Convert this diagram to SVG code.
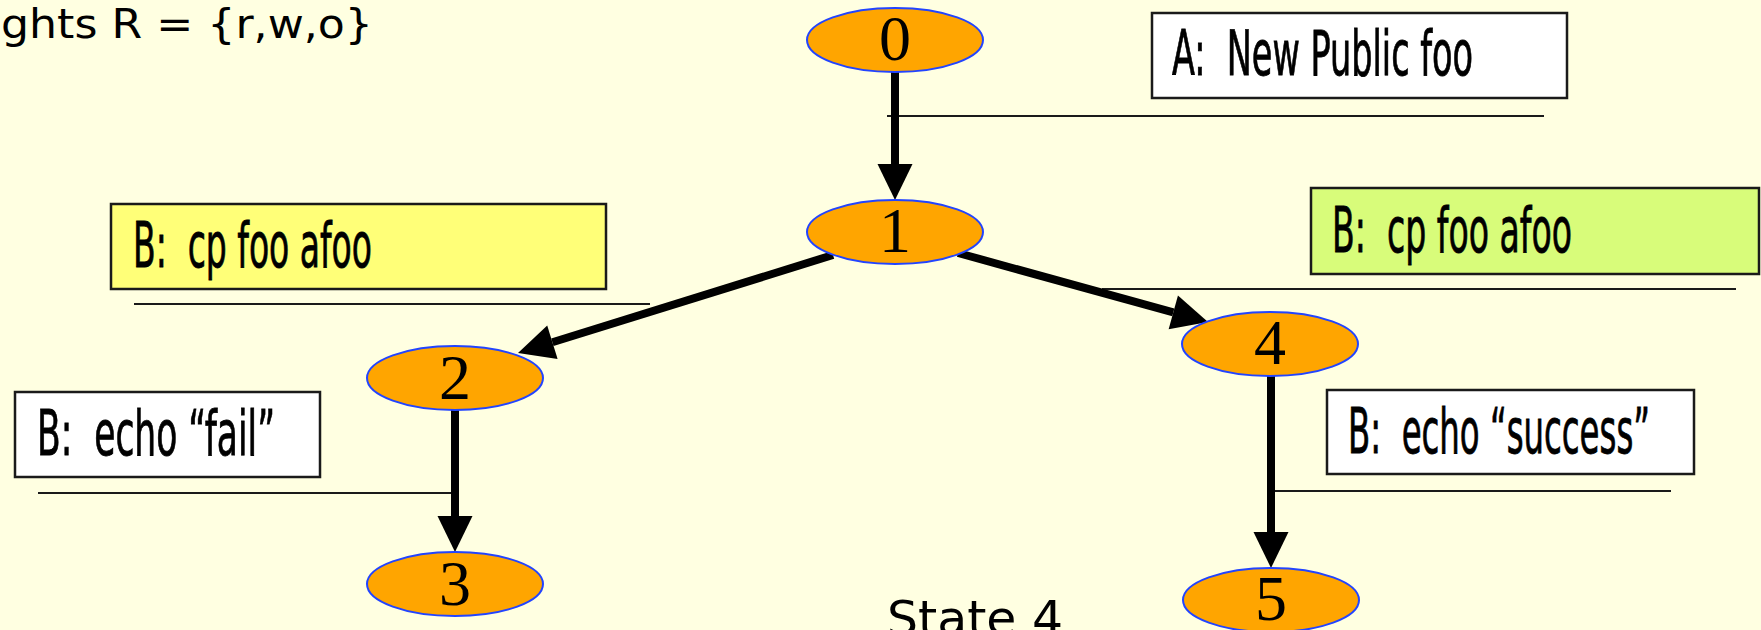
<svg xmlns="http://www.w3.org/2000/svg" width="1761" height="630" viewBox="0 0 1761 630">
  <style>
    .bg { fill: #FFFFE1; }
    .node ellipse { fill: #FFA500; stroke: #2244FF; stroke-width: 2; }
    .node text { font-family: "Liberation Serif", "Times New Roman", serif; font-size: 64px; fill: #000; text-anchor: middle; }
    .box rect { stroke: #1A1A1A; stroke-width: 2.5; }
    .box text { font-family: "Liberation Sans Narrow", "DejaVu Sans Condensed", "Liberation Sans", sans-serif; font-size: 62px; fill: #000; stroke: #000; stroke-width: 0.8; white-space: pre; }
    .rule { stroke: #1A1A1A; stroke-width: 2; fill: none; }
    .edge { stroke: #000; stroke-width: 8; fill: none; marker-end: url(#ah); }
    .caption { font-family: "DejaVu Sans", "Liberation Sans", sans-serif; fill: #000; }
  </style>
  <defs>
    <marker id="ah" markerUnits="userSpaceOnUse" markerWidth="37" markerHeight="36" refX="0" refY="18" orient="auto" overflow="visible">
      <path d="M0,0.5 L36,18 L0,35.5 z" fill="#000"/>
    </marker>
  </defs>
  <rect class="bg" x="0" y="0" width="1761" height="630"/>

  <text class="caption" x="1" y="38" font-size="40" textLength="372" lengthAdjust="spacingAndGlyphs" xml:space="preserve">ghts R = {r,w,o}</text>
  <text class="caption" x="887" y="635" font-size="48" textLength="176" lengthAdjust="spacingAndGlyphs">State 4</text>

  <g id="rules">
    <line class="rule" x1="887" y1="116" x2="1544" y2="116"/>
    <line class="rule" x1="134" y1="304" x2="650" y2="304"/>
    <line class="rule" x1="1102" y1="289" x2="1736" y2="289"/>
    <line class="rule" x1="38" y1="493" x2="455" y2="493"/>
    <line class="rule" x1="1272" y1="491" x2="1671" y2="491"/>
  </g>

  <g id="box-a" class="box">
    <rect x="1152" y="13" width="415" height="85" fill="#FFFFFF"/>
    <text x="1172" y="75" textLength="301" lengthAdjust="spacingAndGlyphs" xml:space="preserve">A:  New Public foo</text>
  </g>
  <g id="box-b-left" class="box">
    <rect x="111" y="204" width="495" height="85" fill="#FFFF78"/>
    <text x="133" y="267" textLength="239" lengthAdjust="spacingAndGlyphs" xml:space="preserve">B:  cp foo afoo</text>
  </g>
  <g id="box-b-right" class="box">
    <rect x="1311" y="188" width="448" height="86" fill="#D8FC7A"/>
    <text x="1332" y="252" textLength="240" lengthAdjust="spacingAndGlyphs" xml:space="preserve">B:  cp foo afoo</text>
  </g>
  <g id="box-fail" class="box">
    <rect x="15" y="392" width="305" height="85" fill="#FFFFFF"/>
    <text x="37" y="455" textLength="238" lengthAdjust="spacingAndGlyphs" xml:space="preserve">B:  echo “fail”</text>
  </g>
  <g id="box-success" class="box">
    <rect x="1327" y="390" width="367" height="84" fill="#FFFFFF"/>
    <text x="1348" y="453" textLength="302" lengthAdjust="spacingAndGlyphs" xml:space="preserve">B:  echo “success”</text>
  </g>

  <g id="connectors">
    <line class="edge" x1="895" y1="72" x2="895" y2="164"/>
    <line class="edge" x1="833" y1="255" x2="552.4" y2="342.3"/>
    <line class="edge" x1="958" y1="253" x2="1173.3" y2="312.4"/>
    <line class="edge" x1="455" y1="410" x2="455" y2="516"/>
    <line class="edge" x1="1271" y1="376" x2="1271" y2="532"/>
  </g>

  <g id="node-0" class="node">
    <ellipse cx="895" cy="40" rx="88" ry="32"/>
    <text x="895" y="60">0</text>
  </g>
  <g id="node-1" class="node">
    <ellipse cx="895" cy="232" rx="88" ry="32"/>
    <text x="895" y="252">1</text>
  </g>
  <g id="node-2" class="node">
    <ellipse cx="455" cy="378" rx="88" ry="32"/>
    <text x="455" y="399">2</text>
  </g>
  <g id="node-3" class="node">
    <ellipse cx="455" cy="584" rx="88" ry="32"/>
    <text x="455" y="605">3</text>
  </g>
  <g id="node-4" class="node">
    <ellipse cx="1270" cy="344" rx="88" ry="32"/>
    <text x="1270" y="364">4</text>
  </g>
  <g id="node-5" class="node">
    <ellipse cx="1271" cy="600" rx="88" ry="32"/>
    <text x="1271" y="620">5</text>
  </g>
</svg>
